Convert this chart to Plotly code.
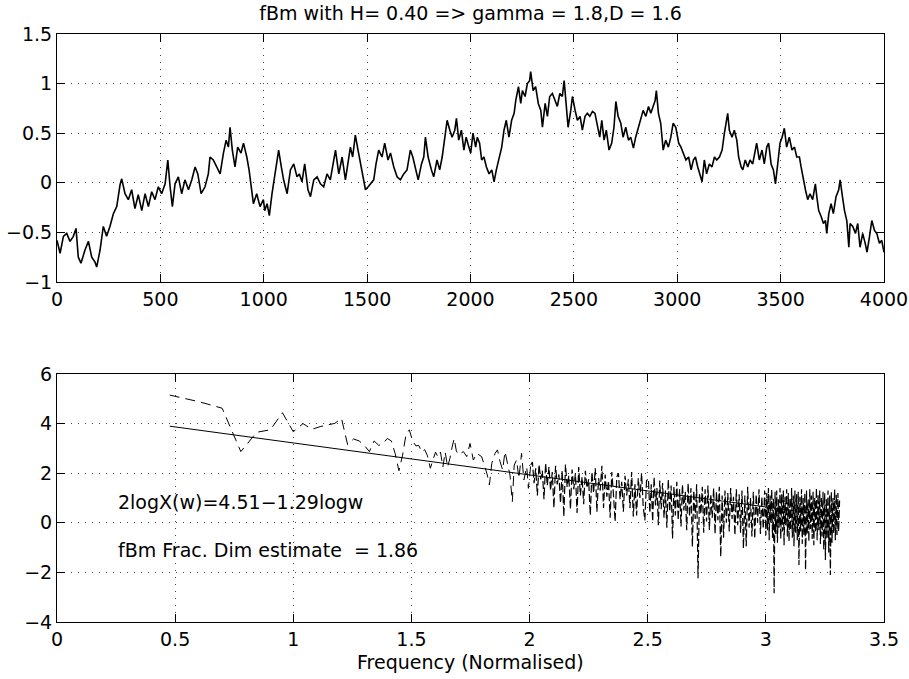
import plotly.graph_objects as go

# ---------------- top panel: fBm trace -------------
top_seg1 = [(0,-0.58),(15,-0.71),(31,-0.54),(47,-0.51),(63,-0.59),(79,-0.54),(92,-0.46),(103,-0.75),
            (116,-0.81),(135,-0.68),(152,-0.59),(168,-0.75),(184,-0.80),(192,-0.85),(208,-0.68),(224,-0.44),
            (240,-0.54),(256,-0.44),(273,-0.31),(289,-0.24),(305,-0.02),(313,0.04),(329,-0.11),(345,-0.17),
            (361,-0.07),(377,-0.26),(393,-0.12),(410,-0.28),(426,-0.11),(442,-0.24),(458,-0.09),(474,-0.17),
            (490,-0.04),(506,-0.11),(523,-0.01),(536,0.23),(547,-0.04),(558,-0.24),(571,-0.01),(587,0.06),
            (603,-0.11),(619,0.03),(636,-0.07),(652,0.03),(668,0.16),(681,0.09),(697,-0.11),(716,-0.04),
            (732,0.09),(740,0.26),(756,0.23),(773,0.16),(789,0.09),(805,0.30),(818,0.43),(829,0.36),
            (837,0.56),(848,0.33),(861,0.16),(874,0.36),(890,0.30),(902,0.40),(918,0.26),(929,0.13),
            (939,-0.04),(950,-0.21),(966,-0.11),(982,-0.24),(998,-0.17)]
top_seg2 = [(1005,-0.28),(1016,-0.21),(1027,-0.33),(1040,-0.11),(1053,0.06),(1064,0.23),(1072,0.33),
            (1085,0.16),(1096,0.03),(1113,-0.11),(1129,0.13),(1145,0.19),(1161,0.06),(1172,0.09),(1185,0.01),
            (1198,0.19),(1214,-0.07),(1226,-0.14),(1242,0.03),(1258,0.06),(1274,-0.01),(1290,-0.04),
            (1306,0.09),(1322,0.03),(1334,0.19),(1347,0.33),(1363,0.09),(1379,0.26),(1395,0.03),(1408,0.23),
            (1419,0.36),(1430,0.26),(1443,0.48),(1456,0.33),(1468,0.19),(1479,0.06),(1492,-0.07),(1505,-0.04),
            (1516,-0.01),(1532,0.03),(1543,0.19),(1556,0.33),(1572,0.26),(1585,0.40),(1601,0.23),(1613,0.30),
            (1629,0.16),(1645,0.06),(1661,0.03),(1677,0.09),(1693,0.13),(1709,0.33),(1721,0.26),(1734,0.13),
            (1747,0.03),(1763,0.19),(1774,0.26),(1782,0.46),(1795,0.26),(1811,0.13),(1822,0.06),(1838,0.23),
            (1851,0.13),(1863,0.26),(1876,0.46),(1887,0.63),(1900,0.53),(1911,0.46),(1924,0.53),(1932,0.65),
            (1943,0.43),(1956,0.53),(1968,0.33),(1979,0.46),(1992,0.36)]
top_seg3 = [(2001,0.30),(2012,0.50),(2025,0.36),(2033,0.46),(2044,0.40),(2054,0.23),(2065,0.26),(2077,0.16),
            (2090,0.09),(2103,0.13),(2114,0.01),(2125,0.13),(2138,0.26),(2151,0.36),(2162,0.53),(2173,0.63),
            (2186,0.46),(2199,0.63),(2211,0.70),(2219,0.83),(2232,0.97),(2243,0.80),(2251,0.93),(2264,0.87),
            (2275,1.00),(2286,1.03),(2291,1.12),(2303,0.93),(2315,0.97),(2328,0.80),(2340,0.73),(2348,0.56),
            (2361,0.80),(2372,0.67),(2383,0.87),(2396,0.90),(2409,0.83),(2420,0.77),(2432,0.90),(2444,0.87),
            (2453,1.03),(2464,0.73),(2472,0.56),(2485,0.73),(2493,0.87),(2506,0.73),(2517,0.63),(2530,0.67),
            (2541,0.53),(2554,0.67),(2565,0.70),(2577,0.67),(2590,0.72),(2602,0.70),(2614,0.56),(2625,0.46),
            (2635,0.63),(2646,0.43),(2657,0.53),(2670,0.33),(2683,0.40),(2694,0.56),(2703,0.82),(2714,0.67),
            (2727,0.60),(2738,0.46),(2751,0.56),(2764,0.43),(2775,0.46),(2788,0.35),(2799,0.46),(2812,0.56),
            (2824,0.63),(2835,0.73),(2848,0.67),(2861,0.77),(2872,0.70),(2883,0.77),(2893,0.83),(2899,0.93),
            (2909,0.70),(2920,0.60),(2932,0.33),(2944,0.43),(2957,0.36),(2969,0.46),(2980,0.60),(2993,0.56)]
top_seg4 = [(3007,0.40),(3018,0.36),(3029,0.30),(3042,0.23),(3055,0.26),(3067,0.13),(3078,0.23),(3088,0.26),
            (3099,0.16),(3110,0.09),(3120,0.01),(3131,0.23),(3142,0.09),(3155,0.19),(3168,0.16),(3180,0.26),
            (3191,0.23),(3204,0.26),(3217,0.33),(3228,0.50),(3239,0.67),(3244,0.70),(3252,0.53),(3265,0.46),
            (3276,0.53),(3288,0.43),(3297,0.26),(3309,0.16),(3317,0.13),(3329,0.23),(3341,0.16),(3352,0.23),
            (3365,0.19),(3378,0.33),(3384,0.40),(3397,0.23),(3410,0.33),(3421,0.19),(3433,0.36),(3442,0.40),
            (3454,0.19),(3465,0.13),(3475,-0.01),(3486,0.19),(3497,0.40),(3507,0.46),(3518,0.55),(3529,0.36),
            (3542,0.46),(3555,0.33),(3567,0.36),(3578,0.26),(3591,0.26),(3599,0.16),(3610,0.03),(3620,-0.07),
            (3631,-0.17),(3642,-0.11),(3655,-0.17),(3668,-0.01),(3675,-0.14),(3684,-0.28),(3696,-0.34),
            (3707,-0.41),(3717,-0.38),(3723,-0.51),(3733,-0.31),(3744,-0.21),(3755,-0.31),(3768,-0.14),
            (3781,-0.07),(3788,0.03),(3797,-0.11),(3809,-0.28),(3820,-0.38),(3830,-0.65),(3836,-0.41),
            (3849,-0.44),(3862,-0.51),(3873,-0.41),(3884,-0.65),(3897,-0.51),(3909,-0.61),(3918,-0.70),
            (3930,-0.54),(3941,-0.38),(3954,-0.48),(3965,-0.51),(3978,-0.61),(3989,-0.58),(4000,-0.70)]

# ---------------- bottom panel: log spectrum ----------
spec_low = [(0.477,5.15),(0.602,4.88),(0.699,4.62),(0.778,2.87),(0.845,3.65),(0.903,3.75),(0.954,4.44),
            (1.000,3.67),(1.041,4.00),(1.079,3.77),(1.114,3.88),(1.146,3.95),(1.176,4.01),(1.204,4.21)]
spec_a = [(1.230,3.15),(1.255,3.38),(1.279,3.30),(1.301,3.12),(1.322,2.87),(1.342,3.30),(1.362,3.12),
          (1.380,3.20),(1.398,3.40),(1.415,3.30),(1.431,2.80),(1.447,2.10),(1.462,2.70),(1.477,3.55),
          (1.491,3.75),(1.505,3.30),(1.519,3.10),(1.531,3.12),(1.544,2.85),(1.556,2.95),(1.568,2.70),
          (1.580,2.20),(1.591,2.50),(1.602,2.85),(1.613,2.65),(1.623,2.85),(1.633,2.25),(1.643,2.85),
          (1.653,2.25),(1.663,2.60),(1.672,3.05),(1.681,3.40),(1.690,2.90),(1.699,2.75)]
spec_b = [(1.720,2.87),(1.734,2.67),(1.748,3.20),(1.762,2.53),(1.776,2.80),(1.797,2.67),(1.811,2.26),
          (1.821,1.93),(1.830,1.52),(1.840,2.40),(1.854,2.80),(1.864,2.94),(1.875,2.47),(1.886,2.13),
          (1.896,2.87),(1.906,2.40),(1.917,1.93),(1.927,0.85),(1.935,2.33),(1.945,2.53),(1.955,1.79),
          (1.966,2.80),(1.976,1.73),(1.988,2.26),(1.995,1.39),(2.005,2.33)]
spec_c = [(2.012,2.45),(2.019,1.60),(2.026,2.20),(2.033,1.10),(2.040,2.35),(2.047,1.75),(2.054,2.10),
          (2.061,0.95),(2.068,2.40),(2.075,1.50),(2.082,2.25),(2.089,1.30),(2.096,2.05),(2.103,0.60),
          (2.110,2.30),(2.117,1.55),(2.124,1.95),(2.131,0.80),(2.138,2.10),(2.145,0.25),(2.152,2.35),
          (2.159,1.45),(2.166,1.90),(2.173,0.55),(2.180,2.15),(2.187,1.35),(2.194,2.00),(2.201,0.40),
          (2.208,2.25),(2.215,1.10),(2.222,1.85),(2.229,0.75),(2.236,2.10),(2.243,1.40),(2.250,1.75),
          (2.257,0.30),(2.264,2.05),(2.271,1.20),(2.278,2.20),(2.285,0.45),(2.292,1.80),(2.299,1.30),
          (2.306,2.30),(2.313,0.60),(2.320,1.95),(2.327,1.05),(2.334,1.70),(2.341,0.20),(2.348,2.05),
          (2.355,1.15),(2.362,0.05),(2.369,1.85),(2.376,2.00),(2.383,0.95),(2.390,1.65),(2.397,0.45),
          (2.404,1.90),(2.411,1.10),(2.418,1.75),(2.425,0.60),(2.432,2.05),(2.439,0.25),(2.446,1.55),
          (2.453,0.30),(2.460,1.80),(2.467,1.00),(2.474,2.00),(2.481,0.65),(2.488,0.10),(2.495,1.70)]
spec_d = [(2.503,1.75),(2.509,0.40),(2.515,1.55),(2.521,0.05),(2.527,1.85),(2.533,0.70),(2.539,1.40),
          (2.545,-0.10),(2.551,1.70),(2.557,0.55),(2.563,1.60),(2.569,0.20),(2.575,1.30),(2.581,-0.20),
          (2.587,1.75),(2.593,0.45),(2.599,1.50),(2.605,-0.63),(2.611,1.45),(2.617,0.30),(2.623,1.65),
          (2.629,0.10),(2.635,1.35),(2.641,-0.15),(2.647,1.55),(2.653,0.50),(2.659,1.25),(2.665,-0.30),
          (2.671,1.60),(2.677,0.25),(2.683,1.40),(2.689,-0.96),(2.695,1.30),(2.701,0.15),(2.707,1.55),
          (2.713,-2.24),(2.719,1.20),(2.725,0.35),(2.731,1.45),(2.737,-0.40),(2.743,1.35),(2.749,0.05),
          (2.755,1.50),(2.761,-0.29),(2.767,1.15),(2.773,0.20),(2.779,1.40),(2.785,-0.45),(2.791,1.25),
          (2.797,0.10),(2.803,1.45),(2.809,-1.37),(2.815,1.10),(2.821,-0.60),(2.827,1.30),(2.833,0.00),
          (2.839,1.20),(2.845,-0.35),(2.851,1.40),(2.857,0.15),(2.863,1.05),(2.869,-0.50),(2.875,1.35),
          (2.881,-0.10),(2.887,1.15),(2.893,-0.40),(2.899,1.30),(2.905,-1.03),(2.911,1.10),(2.917,-0.95),
          (2.923,1.45),(2.929,-0.20),(2.935,1.00),(2.941,-0.55),(2.947,1.25),(2.953,-0.63),(2.959,1.15),
          (2.965,0.00),(2.971,1.35),(2.977,-0.45),(2.983,1.05),(2.989,-0.25),(2.995,1.30)]
spec_e = [(3.000,-0.50),(3.004,1.20),(3.007,-0.30),(3.011,1.40),(3.014,-0.70),(3.018,1.10),(3.021,0.00),
          (3.025,1.35),(3.028,-0.60),(3.032,1.00),(3.035,-2.84),(3.039,1.25),(3.042,-0.45),(3.046,1.30),
          (3.049,-0.80),(3.053,0.95),(3.056,-0.20),(3.060,1.40),(3.063,-0.65),(3.067,1.15),(3.070,-0.35),
          (3.074,1.30),(3.077,-0.90),(3.081,1.05),(3.084,-0.10),(3.088,1.35),(3.091,-0.55),(3.095,1.20),
          (3.098,-0.75),(3.102,1.00),(3.105,-0.30),(3.109,1.40),(3.112,-0.60),(3.116,1.10),(3.119,-0.95),
          (3.123,1.30),(3.126,-0.40),(3.130,1.15),(3.133,-0.70),(3.137,1.25),(3.140,-1.70),(3.144,1.05),
          (3.147,-0.35),(3.151,1.35),(3.154,-0.85),(3.158,1.00),(3.161,-0.50),(3.165,1.20),(3.168,-1.90),
          (3.172,1.30),(3.175,-0.45),(3.179,0.95),(3.182,-0.75),(3.186,1.35),(3.189,-0.25),(3.193,1.10),
          (3.196,-0.65),(3.200,1.25),(3.203,-0.90),(3.207,1.00),(3.210,-0.40),(3.214,1.40),(3.217,-0.70),
          (3.221,1.15),(3.224,-0.30),(3.228,1.30),(3.231,-0.85),(3.235,1.05),(3.238,-0.55),(3.242,1.25),
          (3.245,-1.10),(3.249,1.20),(3.252,-1.50),(3.256,0.95),(3.259,-0.60),(3.263,1.30),(3.266,-1.20),
          (3.270,1.10),(3.273,-2.10),(3.277,1.25),(3.280,-0.80),(3.284,1.00),(3.287,-0.45),(3.291,1.35),
          (3.294,-0.70),(3.298,1.15),(3.301,-0.49),(3.305,1.20),(3.308,-0.35),(3.312,0.90)]

fit_x = [0.477, 3.311]
fit_y = [3.895, 0.239]

title_text = "fBm with H= 0.40 => gamma = 1.8,D = 1.6"
eq_text = "2logX(w)=4.51\u22121.29logw"
dim_text = "fBm Frac. Dim estimate  = 1.86"
xlabel_text = "Frequency (Normalised)"

top = top_seg1 + top_seg2 + top_seg3 + top_seg4
spec_sparse = spec_low + spec_a + spec_b
spec_dense = spec_b[-1:] + spec_c + spec_d + spec_e

FONT = "DejaVu Sans, Verdana, sans-serif"
FS = 19

fig = go.Figure()
fig.add_trace(go.Scatter(x=[p[0] for p in top], y=[p[1] for p in top], mode="lines",
                         line=dict(color="black", width=1.6), xaxis="x", yaxis="y",
                         showlegend=False, hoverinfo="skip"))
fig.add_trace(go.Scatter(x=[p[0] for p in spec_sparse], y=[p[1] for p in spec_sparse], mode="lines",
                         line=dict(color="black", width=1, dash="10px,6px"), xaxis="x2", yaxis="y2",
                         showlegend=False, hoverinfo="skip"))
fig.add_trace(go.Scatter(x=[p[0] for p in spec_dense], y=[p[1] for p in spec_dense], mode="lines",
                         line=dict(color="black", width=1.2, dash="8px,3px"), xaxis="x2", yaxis="y2",
                         showlegend=False, hoverinfo="skip"))
fig.add_trace(go.Scatter(x=fit_x, y=fit_y, mode="lines",
                         line=dict(color="black", width=1), xaxis="x2", yaxis="y2",
                         showlegend=False, hoverinfo="skip"))

axis_common = dict(showline=True, linecolor="black", linewidth=1, mirror="ticks",
                   ticks="inside", ticklen=8, tickcolor="black", tickwidth=1,
                   showgrid=True, gridcolor="#444", gridwidth=1, griddash="1px,6px",
                   zeroline=False, automargin=False, ticklabeloverflow="allow",
                   tickfont=dict(family=FONT, size=FS, color="black"))

H = 679
plot_top, plot_bot = 34, 622
top_y_lo = (plot_bot - 282) / (plot_bot - plot_top)
bot_y_hi = (plot_bot - 374) / (plot_bot - plot_top)

fig.update_layout(
    width=909, height=679,
    margin=dict(l=57, r=25, t=plot_top, b=H - plot_bot),
    paper_bgcolor="white", plot_bgcolor="white",
    font=dict(family=FONT, size=FS, color="black"),
    xaxis=dict(domain=[0, 1], range=[0, 4000], dtick=500, tick0=0, anchor="y", **axis_common),
    yaxis=dict(domain=[top_y_lo, 1], range=[-1, 1.5], dtick=0.5, tick0=0, anchor="x", **axis_common),
    xaxis2=dict(domain=[0, 1], range=[0, 3.5], dtick=0.5, tick0=0, anchor="y2", **axis_common),
    yaxis2=dict(domain=[0, bot_y_hi], range=[-4, 6], dtick=2, tick0=0, anchor="x2", **axis_common),
    title=dict(text=title_text, x=0.5, xref="paper", xanchor="center",
               y=1 - 13 / H, yref="container", yanchor="middle",
               font=dict(family=FONT, size=FS, color="black")),
    annotations=[
        dict(text=eq_text, x=0.25, y=0.85, xref="x2", yref="y2", xanchor="left", yanchor="middle",
             showarrow=False, font=dict(family=FONT, size=FS, color="black")),
        dict(text=dim_text, x=0.25, y=-1.1, xref="x2", yref="y2", xanchor="left", yanchor="middle",
             showarrow=False, font=dict(family=FONT, size=FS, color="black")),
        dict(text=xlabel_text, x=0.5, y=0, xref="paper", yref="paper", xanchor="center",
             yanchor="middle", yshift=-40, showarrow=False,
             font=dict(family=FONT, size=FS, color="black")),
    ],
)

fig.write_html("out.html", config={"displayModeBar": False, "staticPlot": True},
               post_script="document.body.style.margin='0';document.body.style.overflow='hidden';")
